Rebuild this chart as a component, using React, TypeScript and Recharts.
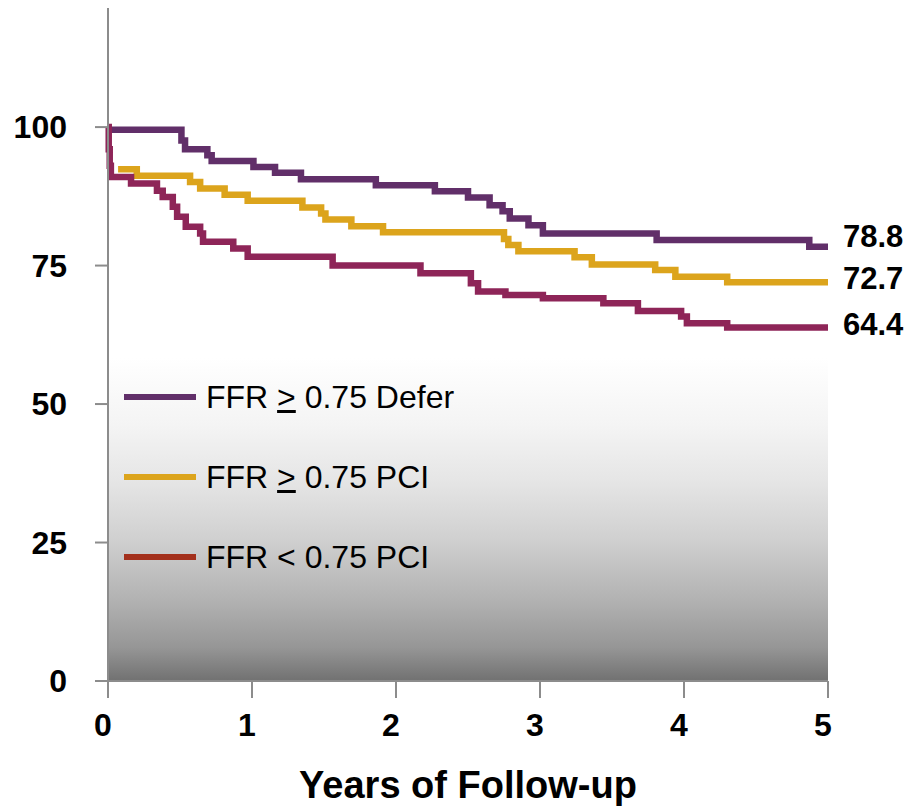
import React from 'react';
import { LineChart, Line, XAxis, YAxis, CartesianGrid, Legend } from 'recharts';

// Kaplan-Meier steps: each time starts a new survival level (stepAfter)
const deferTimes = [0, 0.51, 0.535, 0.69, 0.72, 1.01, 1.16, 1.34, 1.86, 2.27, 2.5, 2.65, 2.74, 2.79, 2.92, 3.02, 3.81, 4.87, 5];
const deferSurv = [99.5, 97.6, 96.0, 94.9, 93.9, 92.8, 91.75, 90.6, 89.5, 88.4, 87.3, 85.9, 84.8, 83.5, 82.3, 80.8, 79.6, 78.4, 78.4];

const pciHighTimes = [0.07, 0.2, 0.57, 0.64, 0.81, 0.97, 1.35, 1.48, 1.51, 1.69, 1.91, 2.75, 2.78, 2.85, 3.24, 3.36, 3.8, 3.94, 4.3, 5];
const pciHighSurv = [92.4, 91.2, 90.1, 88.9, 87.8, 86.7, 85.5, 84.4, 83.3, 82.1, 81.0, 79.8, 78.7, 77.6, 76.5, 75.2, 74.2, 73.0, 72.0, 72.0];

const pciLowTimes = [0, 0.005, 0.012, 0.02, 0.16, 0.34, 0.38, 0.45, 0.48, 0.54, 0.64, 0.66, 0.87, 0.97, 1.56, 2.17, 2.52, 2.57, 2.76, 3.02, 3.44, 3.68, 3.98, 4.02, 4.3, 5];
const pciLowSurv = [100, 96, 93, 91.0, 89.8, 88.5, 87.4, 85.6, 83.8, 82.0, 80.8, 79.3, 78.1, 76.6, 75.0, 73.6, 71.8, 70.3, 69.7, 69.1, 68.2, 66.8, 65.8, 64.6, 63.8, 63.8];

const xTicks = [0, 1, 2, 3, 4, 5];
const yTicks = [0, 25, 50, 75, 100];
const endLabels = ['78.8', '72.7', '64.4'];
const legendNames = ['Defer', 'PCI', 'PCI'];

const toPoints = (t: number[], s: number[]) => t.map((v, i) => ({ t: v, s: s[i] }));

const series = [
  { key: 'defer', data: toPoints(deferTimes, deferSurv), color: '#612f69', legendColor: '#612f69', op: '>', name: legendNames[0], end: endLabels[0], dy: -10 },
  { key: 'pciHigh', data: toPoints(pciHighTimes, pciHighSurv), color: '#dca41c', legendColor: '#dca41c', op: '>', name: legendNames[1], end: endLabels[1], dy: -4 },
  { key: 'pciLow', data: toPoints(pciLowTimes, pciLowSurv), color: '#8e2558', legendColor: '#a3301c', op: '<', name: legendNames[2], end: endLabels[2], dy: -3 },
];

const FONT = '"Liberation Sans", Arial, sans-serif';
const AXIS = '#8c8c8c';

function makeEndLabel(text: string, dy: number, count: number) {
  return (props: any) => {
    if (props.index !== count - 1) return null;
    return (
      <text
        x={props.x + 15}
        y={props.y + dy}
        dominantBaseline="central"
        textAnchor="start"
        fontSize={31}
        fontWeight={700}
        fontFamily={FONT}
        fill="#000"
      >
        {text}
      </text>
    );
  };
}

function LegendBox() {
  return (
    <div style={{ fontFamily: FONT, fontSize: 32, color: '#000' }}>
      {series.map((s) => (
        <div key={s.key} style={{ height: 80, display: 'flex', alignItems: 'center' }}>
          <div style={{ width: 72, height: 6, background: s.legendColor, marginRight: 10 }} />
          <span>
            FFR{' '}
            {s.op === '>' ? <span style={{ textDecoration: 'underline' }}>&gt;</span> : '<'} 0.75 {s.name}
          </span>
        </div>
      ))}
    </div>
  );
}

export default function App() {
  return (
    <div style={{ position: 'absolute', left: 0, top: 0, width: 912, height: 809, background: '#fff' }}>
      <LineChart width={912} height={809} margin={{ top: 8, right: 84, bottom: 68, left: 0 }}>
        <defs>
          <linearGradient id="plotBg" x1="0" y1="0" x2="0" y2="1">
            <stop offset="0" stopColor="#ffffff" />
            <stop offset="0.52" stopColor="#ffffff" />
            <stop offset="0.62" stopColor="#f4f4f4" />
            <stop offset="0.7" stopColor="#e6e6e6" />
            <stop offset="0.79" stopColor="#d0d0d0" />
            <stop offset="0.88" stopColor="#b2b2b2" />
            <stop offset="0.95" stopColor="#969696" />
            <stop offset="1" stopColor="#717171" />
          </linearGradient>
        </defs>
        <CartesianGrid horizontal={false} vertical={false} fill="url(#plotBg)" />
        <XAxis
          dataKey="t"
          type="number"
          domain={[0, 5]}
          ticks={xTicks}
          height={60}
          tickSize={17}
          tickMargin={15}
          axisLine={{ stroke: AXIS, strokeWidth: 2 }}
          tickLine={{ stroke: AXIS, strokeWidth: 2 }}
          tick={{ fill: '#000', fontSize: 32, fontWeight: 700, fontFamily: FONT, dx: -5 }}
          label={{
            value: 'Years of Follow-up',
            position: 'bottom',
            offset: 30,
            fill: '#000',
            fontSize: 38,
            fontWeight: 700,
            fontFamily: FONT,
          }}
        />
        <XAxis
          xAxisId="top"
          orientation="top"
          dataKey="t"
          type="number"
          domain={[0, 5]}
          height={0}
          tick={false}
          tickLine={false}
          axisLine={{ stroke: AXIS, strokeWidth: 2 }}
        />
        <YAxis
          dataKey="s"
          type="number"
          domain={[0, 121.5]}
          ticks={yTicks}
          width={108}
          tickSize={13}
          tickMargin={28}
          axisLine={{ stroke: AXIS, strokeWidth: 2 }}
          tickLine={{ stroke: AXIS, strokeWidth: 2 }}
          tick={{ fill: '#000', fontSize: 32, fontWeight: 700, fontFamily: FONT }}
        />
        <YAxis
          yAxisId="right"
          orientation="right"
          type="number"
          domain={[0, 121.5]}
          width={0}
          tick={false}
          tickLine={false}
          axisLine={{ stroke: AXIS, strokeWidth: 2 }}
        />
        <Legend
          layout="vertical"
          align="center"
          verticalAlign="middle"
          content={<LegendBox />}
          wrapperStyle={{ left: 124, top: 357, width: 440 }}
        />
        {series.map((s) => (
          <Line
            key={s.key}
            data={s.data}
            dataKey="s"
            type="stepAfter"
            stroke={s.color}
            strokeWidth={6.5}
            dot={false}
            activeDot={false}
            isAnimationActive={false}
            label={makeEndLabel(s.end, s.dy, s.data.length)}
          />
        ))}
      </LineChart>
    </div>
  );
}
